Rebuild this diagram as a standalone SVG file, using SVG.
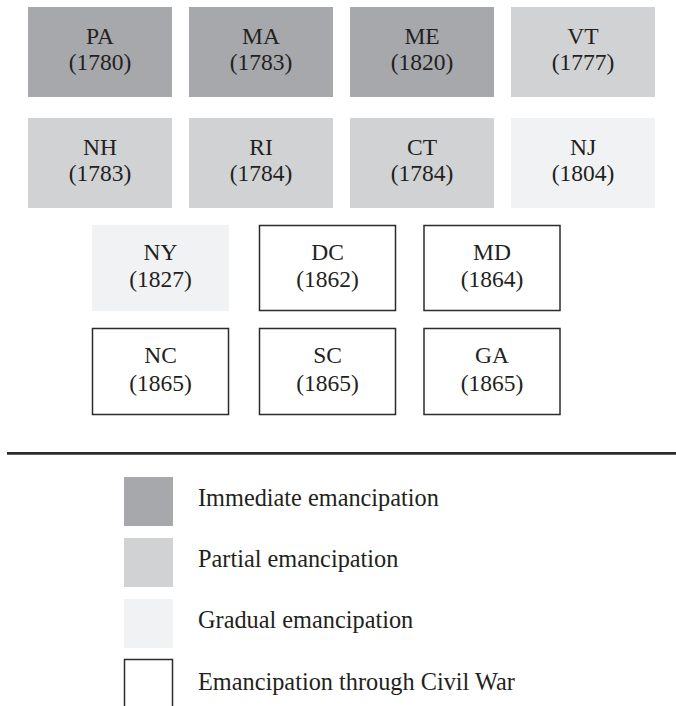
<svg xmlns="http://www.w3.org/2000/svg" width="676" height="706" viewBox="0 0 676 706">
<style>
  text { font-family: "Liberation Serif", "Times New Roman", serif; fill: #231f20; }
  .lbl { font-size: 23.5px; text-anchor: middle; }
  .leg { font-size: 24.3px; }
  .imm { fill: #a7a8ab; }
  .par { fill: #d1d2d4; }
  .grd { fill: #f1f2f3; }
  .war { fill: #ffffff; stroke: #2b2b2b; stroke-width: 1.5; }
</style>
<rect width="676" height="706" fill="#ffffff"/>
<g id="PA"><rect class="imm" x="28" y="7" width="144" height="90"/><text class="lbl" x="100" y="44">PA</text><text class="lbl" x="100" y="70">(1780)</text></g>
<g id="MA"><rect class="imm" x="189" y="7" width="144" height="90"/><text class="lbl" x="261" y="44">MA</text><text class="lbl" x="261" y="70">(1783)</text></g>
<g id="ME"><rect class="imm" x="350" y="7" width="144" height="90"/><text class="lbl" x="422" y="44">ME</text><text class="lbl" x="422" y="70">(1820)</text></g>
<g id="VT"><rect class="par" x="511" y="7" width="144" height="90"/><text class="lbl" x="583" y="44">VT</text><text class="lbl" x="583" y="70">(1777)</text></g>
<g id="NH"><rect class="par" x="28" y="118" width="144" height="90"/><text class="lbl" x="100" y="155">NH</text><text class="lbl" x="100" y="181">(1783)</text></g>
<g id="RI"><rect class="par" x="189" y="118" width="144" height="90"/><text class="lbl" x="261" y="155">RI</text><text class="lbl" x="261" y="181">(1784)</text></g>
<g id="CT"><rect class="par" x="350" y="118" width="144" height="90"/><text class="lbl" x="422" y="155">CT</text><text class="lbl" x="422" y="181">(1784)</text></g>
<g id="NJ"><rect class="grd" x="511" y="118" width="144" height="90"/><text class="lbl" x="583" y="155">NJ</text><text class="lbl" x="583" y="181">(1804)</text></g>
<g id="NY"><rect class="grd" x="92" y="225" width="137" height="86"/><text class="lbl" x="160.5" y="260">NY</text><text class="lbl" x="160.5" y="287">(1827)</text></g>
<g id="DC"><rect class="war" x="259.5" y="225.5" width="136" height="85"/><text class="lbl" x="327.5" y="260">DC</text><text class="lbl" x="327.5" y="287">(1862)</text></g>
<g id="MD"><rect class="war" x="424" y="225.5" width="136" height="85"/><text class="lbl" x="492" y="260">MD</text><text class="lbl" x="492" y="287">(1864)</text></g>
<g id="NC"><rect class="war" x="92.5" y="328.5" width="136" height="86"/><text class="lbl" x="160.5" y="363">NC</text><text class="lbl" x="160.5" y="391">(1865)</text></g>
<g id="SC"><rect class="war" x="259.5" y="328.5" width="136" height="86"/><text class="lbl" x="327.5" y="363">SC</text><text class="lbl" x="327.5" y="391">(1865)</text></g>
<g id="GA"><rect class="war" x="424" y="328.5" width="136" height="86"/><text class="lbl" x="492" y="363">GA</text><text class="lbl" x="492" y="391">(1865)</text></g>
<g id="connectors"></g>
<line x1="7" y1="453.3" x2="676" y2="453.3" stroke="#2b2b2b" stroke-width="2.7"/>
<g id="legend">
  <rect class="imm" x="124" y="477" width="49" height="49"/>
  <text class="leg" x="198" y="506">Immediate emancipation</text>
  <rect class="par" x="124" y="538" width="49" height="49"/>
  <text class="leg" x="198" y="567">Partial emancipation</text>
  <rect class="grd" x="124" y="599" width="49" height="49"/>
  <text class="leg" x="198" y="628">Gradual emancipation</text>
  <rect class="war" x="124.5" y="659.5" width="48" height="60"/>
  <text class="leg" x="198" y="690">Emancipation through Civil War</text>
</g>
</svg>
